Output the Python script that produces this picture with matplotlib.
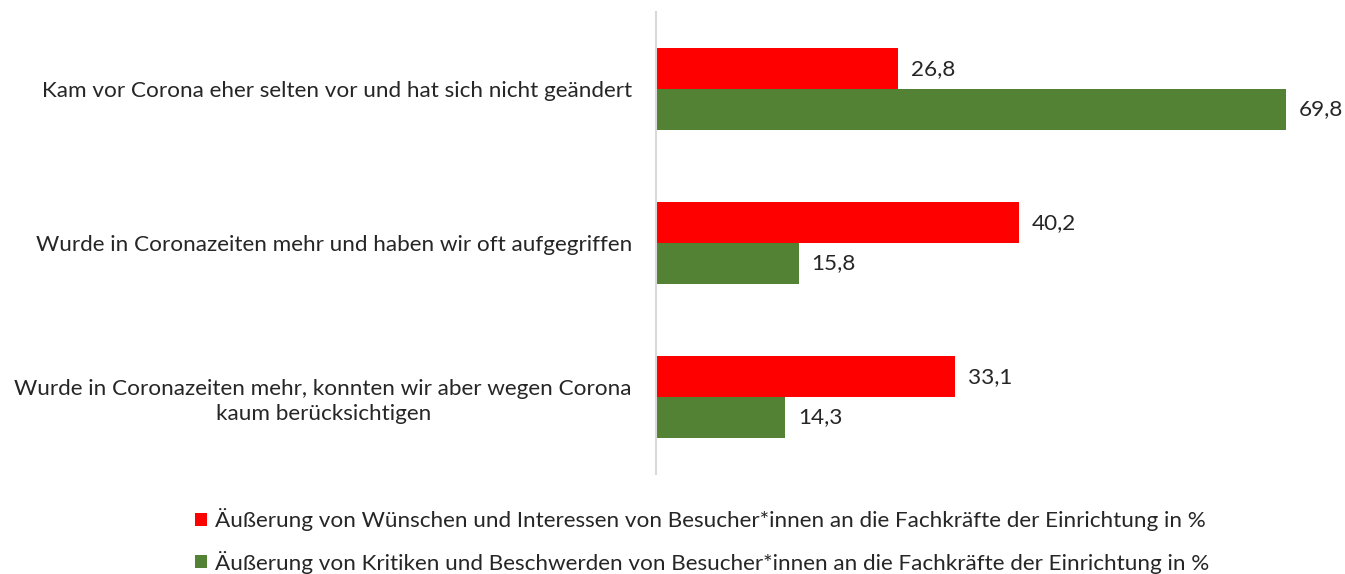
import matplotlib
matplotlib.use("Agg")
import matplotlib.pyplot as plt
from matplotlib.patches import Patch

categories = [
    "Kam vor Corona eher selten vor und hat sich nicht geändert",
    "Wurde in Coronazeiten mehr und haben wir oft aufgegriffen",
    "Wurde in Coronazeiten mehr, konnten wir aber wegen Corona\nkaum berücksichtigen",
]
wuensche = [26.8, 40.2, 33.1]
kritiken = [69.8, 15.8, 14.3]
series_names = [
    "Äußerung von Wünschen und Interessen von Besucher*innen an die Fachkräfte der Einrichtung in %",
    "Äußerung von Kritiken und Beschwerden von Besucher*innen an die Fachkräfte der Einrichtung in %",
]
colors = ["#FF0000", "#548235"]

plt.rcParams['font.family'] = ['Lato', 'DejaVu Sans']
FS = 16.2
TC = "#262626"

W, H = 1345, 574
fig = plt.figure(figsize=(W / 100, H / 100), dpi=100)
left, right, top, bottom = 656, 1333, 12, 474
ax = fig.add_axes([left / W, 1 - bottom / H, (right - left) / W, (bottom - top) / H])

bh = 0.263
ypos = list(range(len(categories)))
ax.barh([y - bh / 2 for y in ypos], wuensche, height=bh, color=colors[0])
ax.barh([y + bh / 2 for y in ypos], kritiken, height=bh, color=colors[1])

for y, v in zip(ypos, wuensche):
    ax.text(v + 1.45, y - bh / 2, f"{v:.1f}".replace(".", ","), va="center", ha="left",
            fontsize=FS, color=TC)
for y, v in zip(ypos, kritiken):
    ax.text(v + 1.45, y + bh / 2, f"{v:.1f}".replace(".", ","), va="center", ha="left",
            fontsize=FS, color=TC)

ax.set_xlim(0, 75)
ax.set_ylim(2.5, -0.5)
ax.set_xticks([])
ax.set_yticks(ypos)
ax.set_yticklabels(categories, fontsize=FS, color=TC, ha="right",
                   multialignment="center", linespacing=1.3)
ax.tick_params(axis="y", length=0, pad=17.3)

for s in ["top", "right", "bottom"]:
    ax.spines[s].set_visible(False)
ax.spines["left"].set_color("#d9d9d9")
ax.spines["left"].set_linewidth(1.5)

handles = [Patch(facecolor=c, edgecolor="none") for c in colors]
fig.legend(handles, series_names, loc="center left", bbox_to_anchor=(195 / W, 1 - 541 / H),
           frameon=False, fontsize=FS, handlelength=0.55, handleheight=0.55,
           handletextpad=0.36, labelspacing=0.85, borderaxespad=0, borderpad=0,
           labelcolor=TC)

fig.savefig("out.png", dpi=100)
